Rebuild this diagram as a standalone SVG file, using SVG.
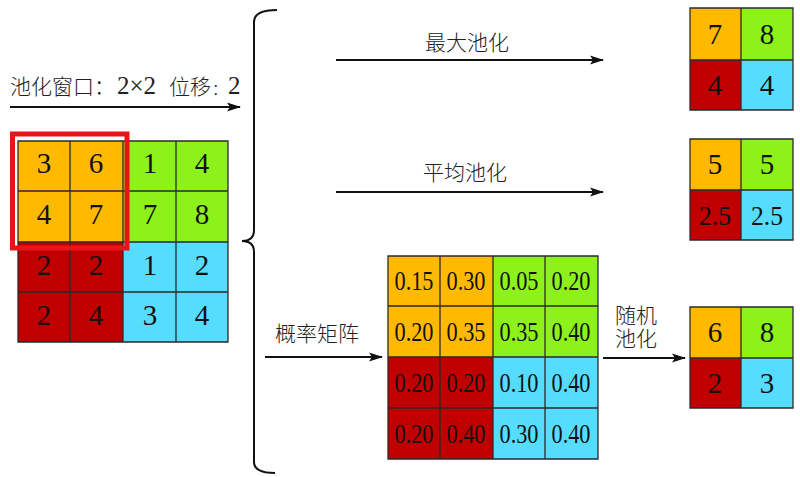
<svg xmlns="http://www.w3.org/2000/svg" width="800" height="477" viewBox="0 0 800 477">
<defs>
<marker id="ah" markerWidth="14" markerHeight="10" refX="13" refY="5" orient="auto" markerUnits="userSpaceOnUse">
<path d="M0,0.5 L14,5 L0,9.5 L3,5 Z" fill="#111"/>
</marker>
</defs>
<style>
.o{fill:#FFBA00}.g{fill:#8DF21A}.r{fill:#C00000}.b{fill:#55DCFF}
.gl{fill:none;stroke:#2a2a2a;stroke-width:1.3}
.n{font-family:"Liberation Serif",serif;font-size:29px;fill:#111;text-anchor:middle}
.d{font-family:"Liberation Serif",serif;font-size:27px;fill:#111;text-anchor:middle}
.s{font-family:"Liberation Serif",serif;font-size:25px;fill:#222}
.cj{font-family:"Noto Sans CJK SC","Noto Sans CJK JP",sans-serif;font-size:21px;font-weight:300;fill:#222}
.ar{stroke:#111;stroke-width:2;fill:none}
</style>
<rect width="800" height="477" fill="#fff"/>

<g id="input-grid">
<rect class="o" x="18" y="141" width="105" height="101"/>
<rect class="g" x="123" y="141" width="105" height="101"/>
<rect class="r" x="18" y="242" width="105" height="100"/>
<rect class="b" x="123" y="242" width="105" height="100"/>
<path class="gl" d="M18,141H228V342H18Z M70,141V342 M123,141V342 M176,141V342 M18,191H228 M18,242H228 M18,292H228"/>
<text class="n" x="44" y="173">3</text><text class="n" x="96" y="173">6</text><text class="n" x="150" y="173">1</text><text class="n" x="202" y="173">4</text>
<text class="n" x="44" y="224">4</text><text class="n" x="96" y="224">7</text><text class="n" x="150" y="224">7</text><text class="n" x="202" y="224">8</text>
<text class="n" x="44" y="275">2</text><text class="n" x="96" y="275">2</text><text class="n" x="150" y="275">1</text><text class="n" x="202" y="275">2</text>
<text class="n" x="44" y="325">2</text><text class="n" x="96" y="325">4</text><text class="n" x="150" y="325">3</text><text class="n" x="202" y="325">4</text>
<rect x="12.5" y="134" width="114.5" height="114" fill="none" stroke="#E8141A" stroke-width="5"/>
</g>

<g id="window-label">
<text class="cj" x="10" y="94" font-size="22">池化窗口：<tspan class="s" x="117">2×2</tspan><tspan x="169">位移</tspan><tspan x="212" font-size="15">：</tspan><tspan class="s" x="228">2</tspan></text>
</g>

<g id="brace">
<path d="M277,10 Q254,10 254,22 V230 Q254,241 242,241 Q254,241 254,252 V462 Q254,473 275,473" fill="none" stroke="#111" stroke-width="2"/>
</g>

<g id="max-grid">
<rect class="o" x="690" y="8" width="51" height="52"/>
<rect class="g" x="741" y="8" width="52" height="52"/>
<rect class="r" x="690" y="60" width="51" height="50"/>
<rect class="b" x="741" y="60" width="52" height="50"/>
<path class="gl" d="M690,8H793V110H690Z M741,8V110 M690,60H793"/>
<text class="n" x="715" y="44">7</text><text class="n" x="767" y="44">8</text>
<text class="n" x="715" y="95">4</text><text class="n" x="767" y="95">4</text>
</g>

<g id="avg-grid">
<rect class="o" x="690" y="139" width="51" height="51"/>
<rect class="g" x="741" y="139" width="52" height="51"/>
<rect class="r" x="690" y="190" width="51" height="50"/>
<rect class="b" x="741" y="190" width="52" height="50"/>
<path class="gl" d="M690,139H793V240H690Z M741,139V240 M690,190H793"/>
<text class="n" x="715" y="174">5</text><text class="n" x="767" y="174">5</text>
<text class="d" x="715" y="225" textLength="32" lengthAdjust="spacingAndGlyphs">2.5</text><text class="d" x="767" y="225" textLength="32" lengthAdjust="spacingAndGlyphs">2.5</text>
</g>

<g id="prob-matrix">
<rect class="o" x="388" y="256" width="105" height="101"/>
<rect class="g" x="493" y="256" width="105" height="101"/>
<rect class="r" x="388" y="357" width="105" height="102"/>
<rect class="b" x="493" y="357" width="105" height="102"/>
<path class="gl" d="M388,256H598V459H388Z M440,256V459 M493,256V459 M545,256V459 M388,306H598 M388,357H598 M388,408H598"/>
<g class="d">
<text x="414" y="290" textLength="39" lengthAdjust="spacingAndGlyphs">0.15</text><text x="466" y="290" textLength="39" lengthAdjust="spacingAndGlyphs">0.30</text><text x="519" y="290" textLength="39" lengthAdjust="spacingAndGlyphs">0.05</text><text x="571" y="290" textLength="39" lengthAdjust="spacingAndGlyphs">0.20</text>
<text x="414" y="341" textLength="39" lengthAdjust="spacingAndGlyphs">0.20</text><text x="466" y="341" textLength="39" lengthAdjust="spacingAndGlyphs">0.35</text><text x="519" y="341" textLength="39" lengthAdjust="spacingAndGlyphs">0.35</text><text x="571" y="341" textLength="39" lengthAdjust="spacingAndGlyphs">0.40</text>
<text x="414" y="392" textLength="39" lengthAdjust="spacingAndGlyphs">0.20</text><text x="466" y="392" textLength="39" lengthAdjust="spacingAndGlyphs">0.20</text><text x="519" y="392" textLength="39" lengthAdjust="spacingAndGlyphs">0.10</text><text x="571" y="392" textLength="39" lengthAdjust="spacingAndGlyphs">0.40</text>
<text x="414" y="443" textLength="39" lengthAdjust="spacingAndGlyphs">0.20</text><text x="466" y="443" textLength="39" lengthAdjust="spacingAndGlyphs">0.40</text><text x="519" y="443" textLength="39" lengthAdjust="spacingAndGlyphs">0.30</text><text x="571" y="443" textLength="39" lengthAdjust="spacingAndGlyphs">0.40</text>
</g>
</g>

<g id="stochastic-grid">
<rect class="o" x="690" y="307" width="51" height="51"/>
<rect class="g" x="741" y="307" width="52" height="51"/>
<rect class="r" x="690" y="358" width="51" height="50"/>
<rect class="b" x="741" y="358" width="52" height="50"/>
<path class="gl" d="M690,307H793V408H690Z M741,307V408 M690,358H793"/>
<text class="n" x="715" y="342">6</text><text class="n" x="767" y="342">8</text>
<text class="n" x="715" y="393">2</text><text class="n" x="767" y="393">3</text>
</g>

<g id="connectors">
<line class="ar" x1="10" y1="107" x2="240" y2="107" marker-end="url(#ah)"/>
<line class="ar" x1="336" y1="60" x2="603" y2="60" marker-end="url(#ah)"/>
<line class="ar" x1="336" y1="192" x2="603" y2="192" marker-end="url(#ah)"/>
<line class="ar" x1="265" y1="357" x2="382" y2="357" marker-end="url(#ah)"/>
<line class="ar" x1="603" y1="358" x2="685" y2="358" marker-end="url(#ah)"/>
<text class="cj" x="425" y="50">最大池化</text>
<text class="cj" x="423" y="180">平均池化</text>
<text class="cj" x="275" y="341">概率矩阵</text>
<text class="cj" x="615" y="323" font-size="19.5"><tspan x="615" y="323">随机</tspan><tspan x="615" y="346">池化</tspan></text>
</g>
</svg>
